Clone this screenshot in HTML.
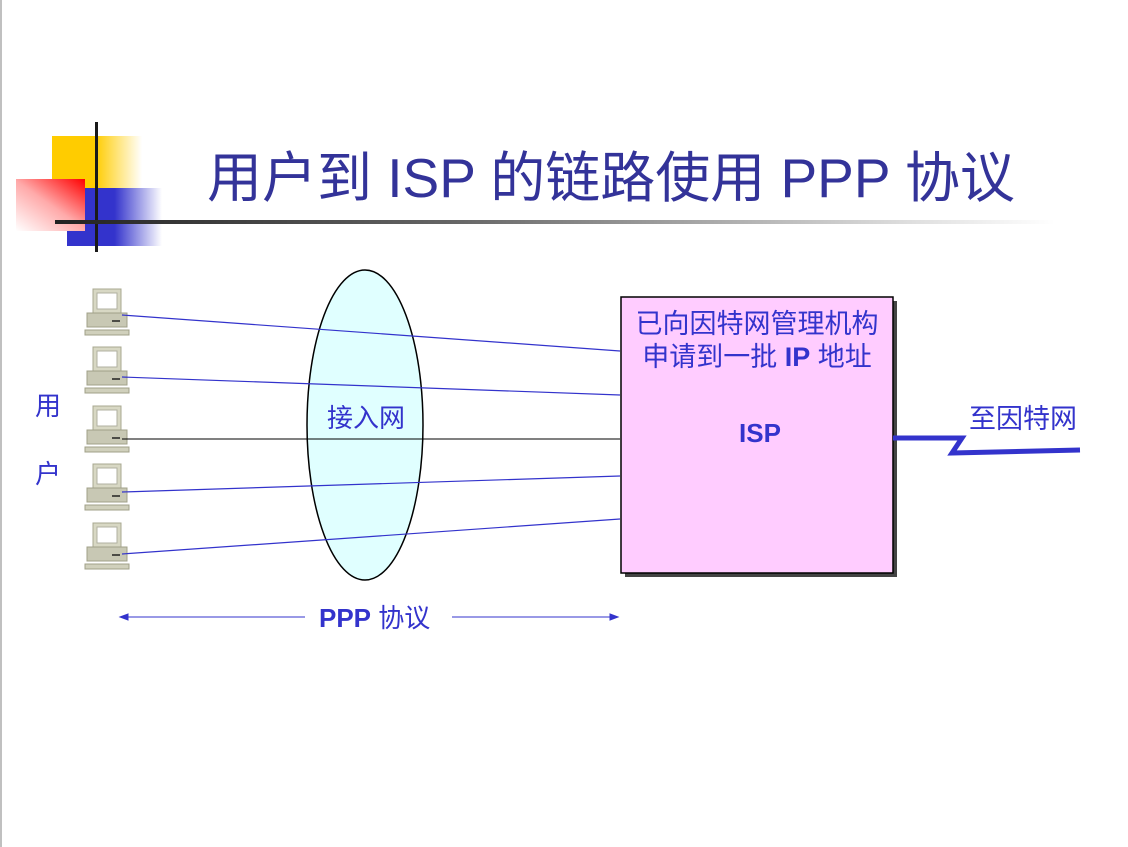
<!DOCTYPE html>
<html><head><meta charset="utf-8"><style>
body{margin:0;width:1128px;height:847px;background:#fff;position:relative;overflow:hidden;font-family:"Liberation Sans","Noto Sans CJK SC",sans-serif}
.a{position:absolute;white-space:nowrap}
</style></head><body>
<div class="a" style="left:0;top:0;width:2px;height:847px;background:#c0c0c0"></div>
<div class="a" style="left:52px;top:136px;width:90px;height:52px;background:linear-gradient(90deg,#ffcc00 0,#ffcc00 48%,#fff 100%)"></div>
<div class="a" style="left:67px;top:188px;width:95px;height:58px;background:linear-gradient(90deg,#3333cc 0,#3333cc 50%,#fff 100%)"></div>
<div class="a" style="left:16px;top:179px;width:69px;height:52px;background:linear-gradient(215deg,#ff0000 0,#ffaaaa 50%,#fff 100%)"></div>
<div class="a" style="left:95px;top:122px;width:3px;height:130px;background:#1a1a1a"></div>
<div class="a" style="left:55px;top:220px;width:1000px;height:4px;background:linear-gradient(90deg,#222 0,#666 40%,#ddd 85%,#fff 100%)"></div>
<div class="a" style="left:207px;top:133px;font-size:55px;color:#333399">用户到 ISP 的链路使用 PPP 协议</div>
<svg class="a" style="left:0;top:0" width="1128" height="847">
<defs><g id="pc">
<rect x="1" y="0" width="28" height="24" fill="#d8d8c4" stroke="#a8a890"/>
<rect x="5" y="4" width="20" height="16" fill="#fff" stroke="#b0b0a0"/>
<rect x="-5" y="24" width="40" height="14" fill="#c8c8b4" stroke="#a0a088"/>
<line x1="20" y1="32" x2="28" y2="32" stroke="#222" stroke-width="1.5"/>
<rect x="-7" y="41" width="44" height="5" fill="#d0d0bc" stroke="#a0a088"/>
</g></defs>
<use href="#pc" x="92" y="289"/><use href="#pc" x="92" y="347"/><use href="#pc" x="92" y="406"/><use href="#pc" x="92" y="464"/><use href="#pc" x="92" y="523"/>
<ellipse cx="365" cy="425" rx="58" ry="155" fill="#e0ffff" stroke="#000" stroke-width="1.5"/>
<g stroke="#3333cc" stroke-width="1.2">
<line x1="122" y1="315" x2="620" y2="351"/><line x1="122" y1="377" x2="620" y2="395"/>
<line x1="122" y1="492" x2="620" y2="476"/><line x1="122" y1="554" x2="620" y2="519"/></g>
<line x1="122" y1="439" x2="620" y2="439" stroke="#000" stroke-width="1"/>
<rect x="625" y="301" width="272" height="276" fill="#444"/>
<rect x="621" y="297" width="272" height="276" fill="#ffccff" stroke="#000" stroke-width="1.5"/>
<polyline points="893,438 962,438 952,453 1080,450" fill="none" stroke="#3333cc" stroke-width="5"/>
<g stroke="#3333cc" fill="#3333cc"><line x1="125" y1="617" x2="305" y2="617"/><line x1="452" y1="617" x2="614" y2="617"/>
<polygon points="120,617 128,614 128,620"/><polygon points="618,617 610,614 610,620"/></g>
</svg>
<div class="a" style="left:35px;top:386px;font-size:26px;color:#3333cc">用</div>
<div class="a" style="left:35px;top:454px;font-size:26px;color:#3333cc">户</div>
<div class="a" style="left:327px;top:398px;font-size:26px;color:#3333cc">接入网</div>
<div class="a" style="left:621px;top:308px;width:272px;text-align:center;font-size:27px;line-height:33px;color:#3333cc">已向因特网管理机构<br>申请到一批 <b>IP</b> 地址</div>
<div class="a" style="left:739px;top:418px;font-size:26px;font-weight:bold;color:#3333cc">ISP</div>
<div class="a" style="left:969px;top:397px;font-size:27px;color:#3333cc">至因特网</div>
<div class="a" style="left:319px;top:598px;font-size:26px;color:#3333cc"><b>PPP</b> 协议</div>
</body></html>
